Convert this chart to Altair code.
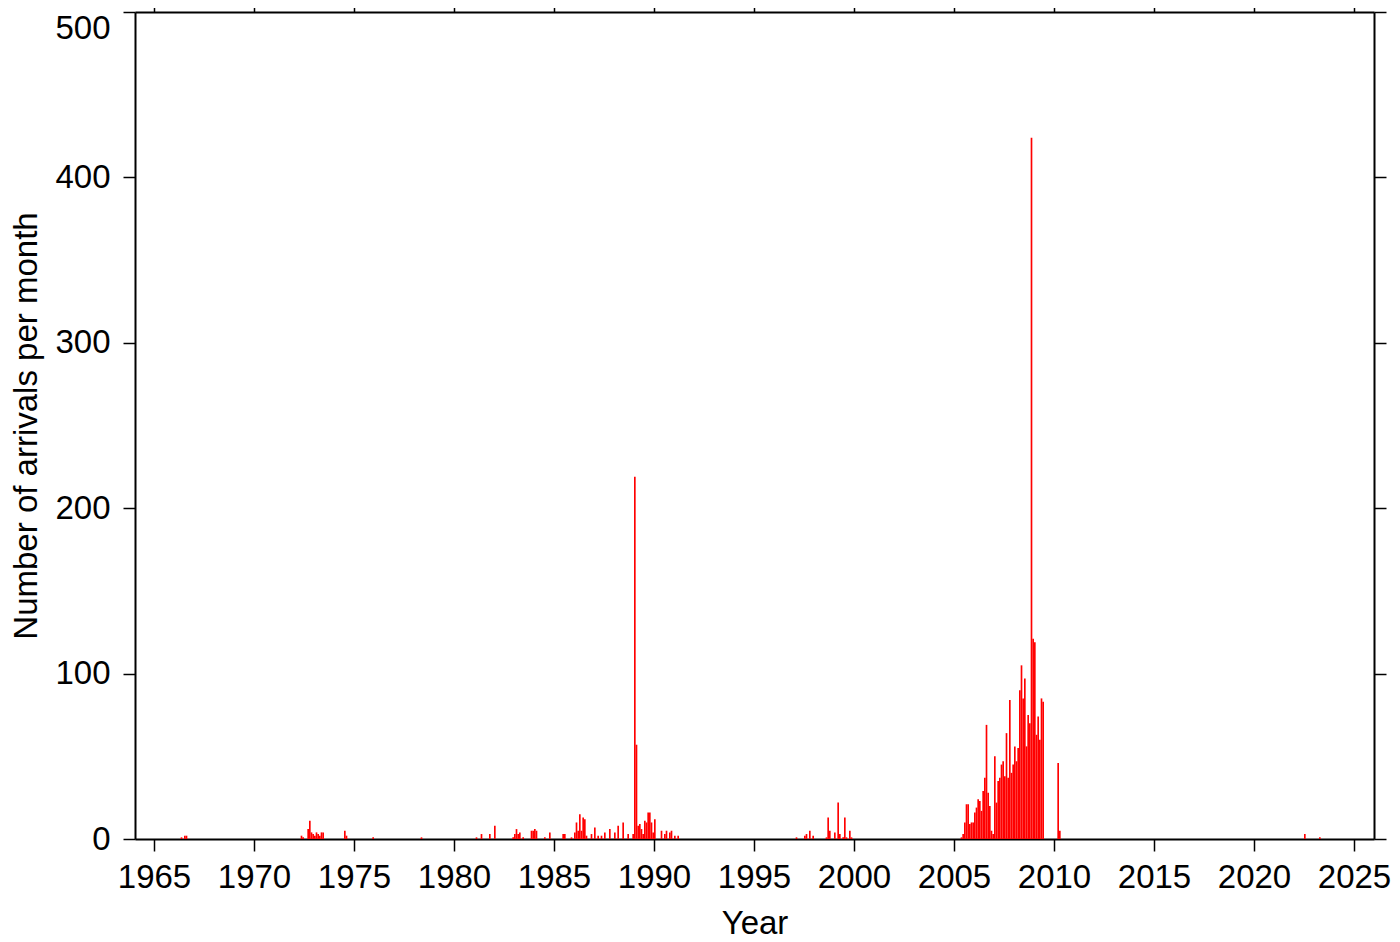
import altair as alt
import pandas as pd

# Monthly arrival counts (year, month, count)
years = (
    [1966] * 3 + [1972] * 6 + [1973] * 6 + [1974] * 2 + [1975] + [1978]
    + [1981] * 3 + [1982] * 2 + [1983] * 7 + [1984] * 4 + [1985] * 3
    + [1986] * 9 + [1987] * 5 + [1988] * 5 + [1989] * 12 + [1990] * 6
    + [1991] * 2 + [1997] * 5 + [1998] * 3 + [1999] * 8
    + [2005] * 8 + [2006] * 12 + [2007] * 12 + [2008] * 12 + [2009] * 6
    + [2010] * 2 + [2022] + [2023]
)
months = (
    [5, 7, 8]
    + [5, 6, 9, 10, 11, 12]
    + [1, 2, 3, 4, 5, 6]
    + [7, 8]
    + [12]
    + [5]
    + [2, 5, 10]
    + [1, 12]
    + [1, 2, 3, 4, 6, 11, 12]
    + [1, 2, 7, 10]
    + [6, 7, 11]
    + [1, 2, 3, 4, 5, 6, 7, 8, 11]
    + [1, 3, 5, 7, 10]
    + [1, 3, 6, 9, 12]
    + [1, 2, 3, 4, 5, 6, 7, 8, 9, 10, 11, 12]
    + [1, 5, 7, 8, 10, 11]
    + [1, 3]
    + [2, 7, 8, 10, 12]
    + [8, 9, 10]
    + [1, 3, 4, 6, 7, 8, 10, 11]
    + [5, 6, 7, 8, 9, 10, 11, 12]
    + [1, 2, 3, 4, 5, 6, 7, 8, 9, 10, 11, 12]
    + [1, 2, 3, 4, 5, 6, 7, 8, 9, 10, 11, 12]
    + [1, 2, 3, 4, 5, 6, 7, 8, 9, 10, 11, 12]
    + [1, 2, 3, 4, 5, 6]
    + [3, 4]
    + [7]
    + [4]
)
counts = (
    [1, 2, 2]
    + [2, 1, 6, 11, 4, 3]
    + [2, 4, 3, 2, 4, 4]
    + [5, 2]
    + [1]
    + [1]
    + [1, 3, 3]
    + [8, 1]
    + [3, 6, 3, 4, 1, 5, 5]
    + [6, 5, 1, 4]
    + [3, 3, 1]
    + [4, 10, 5, 15, 5, 13, 12, 2, 3]
    + [7, 2, 2, 4, 6]
    + [4, 8, 10, 3, 3]
    + [219, 57, 8, 9, 6, 3, 11, 10, 16, 16, 10, 4]
    + [12, 5, 3, 5, 4, 5]
    + [2, 2]
    + [1, 2, 3, 5, 2]
    + [1, 13, 5]
    + [4, 22, 3, 1, 13, 1, 5, 1]
    + [1, 3, 10, 21, 21, 9, 10, 10]
    + [16, 19, 24, 23, 17, 29, 37, 69, 28, 20, 5, 3]
    + [50, 22, 35, 37, 45, 47, 38, 64, 37, 84, 40, 45]
    + [56, 47, 55, 90, 105, 85, 97, 56, 75, 70, 424, 121]
    + [119, 63, 74, 60, 85, 83]
    + [46, 5]
    + [3]
    + [1]
)

x_domain = [1964.05, 2026.0]
y_domain = [0, 500]
x_ticks = [1965, 1970, 1975, 1980, 1985, 1990, 1995, 2000, 2005, 2010, 2015, 2020, 2025]
y_ticks = [0, 100, 200, 300, 400, 500]

df = pd.DataFrame({"year": years, "month": months, "count": counts})
df["start"] = df["year"] + (df["month"] - 1) / 12.0
df["end"] = df["start"] + 1 / 12.0
df["base"] = 0

FONT = "Liberation Sans"
FS = 33

xs = alt.Scale(domain=x_domain, nice=False, zero=False)
ys = alt.Scale(domain=y_domain, nice=False, zero=True)

common_axis = dict(
    domainColor="black", domainWidth=2, tickColor="black", tickWidth=1.5,
    tickSize=12, grid=False, labelFont=FONT, labelFontSize=FS,
    labelColor="black", titleFont=FONT, titleFontSize=FS, titleColor="black",
    titleFontWeight="normal",
)

bars = alt.Chart(df).mark_rect(color="#ff0000").encode(
    x=alt.X("start:Q", scale=xs, axis=alt.Axis(
        values=x_ticks, format="d", title="Year", orient="bottom",
        labelPadding=10, labelFlush=False, labelOverlap=False,
        titleY=94, titleBaseline="alphabetic", **common_axis)),
    x2="end:Q",
    y=alt.Y("count:Q", scale=ys, axis=alt.Axis(
        values=y_ticks, format="d", title="Number of arrivals per month",
        orient="left", labelPadding=13, labelFlush=False,
        labelOffset={"condition": {"test": "datum.value == 500", "value": 16}, "value": 0},
        titleX=-125, titleBaseline="top", **common_axis)),
    y2="base:Q",
)

frame = alt.Chart(df).mark_point(opacity=0).encode(
    x=alt.X("start:Q", scale=xs, axis=alt.Axis(
        values=x_ticks, orient="top", labels=False, title="", **common_axis)),
    y=alt.Y("count:Q", scale=ys, axis=alt.Axis(
        values=y_ticks, orient="right", labels=False, title="", **common_axis)),
)

chart = alt.layer(bars, frame).resolve_scale(
    x="independent", y="independent"
).properties(
    width=1239, height=827,
    autosize=alt.AutoSizeParams(type="none"),
    padding={"left": 127, "top": 4, "right": 18, "bottom": 103},
).configure_view(stroke=None).configure(background="white")

chart.save("out.html", embed_options={"renderer": "svg", "actions": False})
